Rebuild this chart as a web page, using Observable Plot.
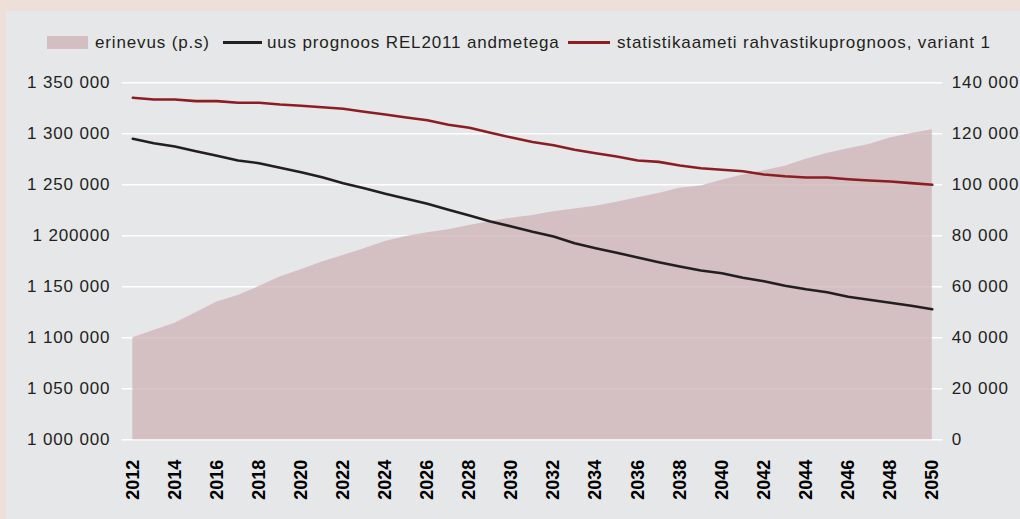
<!DOCTYPE html>
<html><head><meta charset="utf-8">
<script src="https://cdn.jsdelivr.net/npm/d3@7"></script>
<script src="https://cdn.jsdelivr.net/npm/@observablehq/plot@0.6"></script>
<style>
body{margin:0;background:#eedfd9;width:1020px;height:519px;overflow:hidden;position:relative;font-family:"Liberation Sans",Arial,sans-serif;}
#panel{position:absolute;left:6px;top:11px;width:1014px;height:508px;background:#e6e7e9;}
#legend{position:absolute;left:0;top:0;width:1020px;height:60px;}
.lg{position:absolute;font-size:17px;letter-spacing:.85px;color:#231f20;top:32px;line-height:22px;white-space:nowrap}
.sw{position:absolute}
#chart{position:absolute;left:0;top:60px;}
#chart svg text{letter-spacing:.85px}
#chart svg g[aria-label="x-axis tick label"] text{letter-spacing:0}
</style></head><body>
<div id="panel"></div>
<div id="legend"></div>
<div id="chart"></div>
<script>
const years = [2012,2013,2014,2015,2016,2017,2018,2019,2020,2021,2022,2023,2024,2025,2026,2027,2028,2029,2030,2031,2032,2033,2034,2035,2036,2037,2038,2039,2040,2041,2042,2043,2044,2045,2046,2047,2048,2049,2050];
const statPrognoos = [1335300,1333600,1333600,1332000,1332000,1330400,1330400,1328700,1327500,1326100,1324500,1321600,1318900,1316000,1313300,1308800,1305900,1301000,1296300,1292000,1288800,1284300,1281000,1277700,1273800,1272500,1268900,1266300,1264700,1263300,1260100,1258400,1257200,1257200,1255500,1254200,1253200,1251600,1250000];
const uusPrognoos = [1295100,1290800,1287500,1282900,1278400,1273800,1271200,1266700,1262400,1257500,1251600,1246700,1241200,1236300,1231400,1225500,1219900,1214000,1209100,1204000,1199400,1192700,1187900,1183300,1178700,1174100,1169900,1166000,1163300,1158800,1155500,1151000,1147600,1144700,1140200,1137300,1134300,1131400,1128000];
const erinevus = [40000,42900,45700,49800,54000,56600,60100,63800,66700,69700,72300,74900,77800,79700,81200,82400,84000,85600,86900,88000,89400,90500,91600,93200,94900,96600,98600,99500,101800,103800,105500,107300,110000,112300,114100,115800,118400,120100,121600];
const leftTicks = [1000000,1050000,1100000,1150000,1200000,1250000,1300000,1350000];
const leftTickLabels = ["1 000 000","1 050 000","1 100 000","1 150 000","1 200000","1 250 000","1 300 000","1 350 000"];
const rightTickLabels = ["0","20 000","40 000","60 000","80 000","100 000","120 000","140 000"];
const xTicks = [2012,2014,2016,2018,2020,2022,2024,2026,2028,2030,2032,2034,2036,2038,2040,2042,2044,2046,2048,2050];
const legendLabels = ["erinevus (p.s)","uus prognoos REL2011 andmetega","statistikaameti rahvastikuprognoos, variant 1"];

const colArea = "rgb(208,181,184)", colBlack = "#231f20", colRed = "#8c1d23";

// legend
const lg = document.getElementById("legend");
function add(html){ lg.insertAdjacentHTML("beforeend", html); }
add(`<div class="sw" style="left:47px;top:36px;width:41px;height:13px;background:#d3bfc1"></div>`);
add(`<div class="lg" style="left:95px">${legendLabels[0]}</div>`);
add(`<div class="sw" style="left:223px;top:41px;width:39px;height:3px;background:${colBlack}"></div>`);
add(`<div class="lg" style="left:267px">${legendLabels[1]}</div>`);
add(`<div class="sw" style="left:568px;top:41px;width:42px;height:3px;background:${colRed}"></div>`);
add(`<div class="lg" style="left:617px">${legendLabels[2]}</div>`);

const rows = years.map((year,i)=>({year, uus: uusPrognoos[i], stat: statPrognoos[i], diff: erinevus[i]}));
const base = leftTicks[0];
const ratio = (leftTicks[leftTicks.length-1]-leftTicks[0]) / 140000;
const toLeft = r => base + r*ratio;

const plot = Plot.plot({
  width: 1020, height: 459,
  marginLeft: 121.8, marginRight: 77.7, marginTop: 22.3, marginBottom: 79.7,
  x: {domain: [2011.5, 2050.5]},
  y: {domain: [1000000, 1350000]},
  style: {background: "transparent", fontFamily: '"Liberation Sans", Arial, sans-serif', fontSize: "17px", color: "#231f20", overflow: "visible"},
  marks: [
    Plot.ruleY(leftTicks, {stroke: "#ffffff", strokeWidth: 1.6}),
    Plot.areaY(rows, {x: "year", y1: () => base, y2: d => toLeft(d.diff), fill: colArea, fillOpacity: 0.8}),
    Plot.lineY(rows, {x: "year", y: "stat", stroke: colRed, strokeWidth: 2.6}),
    Plot.lineY(rows, {x: "year", y: "uus", stroke: colBlack, strokeWidth: 2.6}),
    Plot.axisY({ticks: leftTicks, tickFormat: d => leftTickLabels[leftTicks.indexOf(d)], anchor: "left", tickSize: 0, tickPadding: 12, label: null, fill: "#231f20"}),
    Plot.axisY({ticks: leftTicks, tickFormat: d => rightTickLabels[leftTicks.indexOf(d)], anchor: "right", tickSize: 0, tickPadding: 9, label: null, fill: "#231f20"}),
    Plot.axisX({ticks: xTicks, tickFormat: d => String(d), tickRotate: -90, tickSize: 0, tickPadding: 20, fontWeight: "bold", fontSize: 18, label: null, fill: "#000"})
  ]
});
document.getElementById("chart").appendChild(plot);
</script>
</body></html>
